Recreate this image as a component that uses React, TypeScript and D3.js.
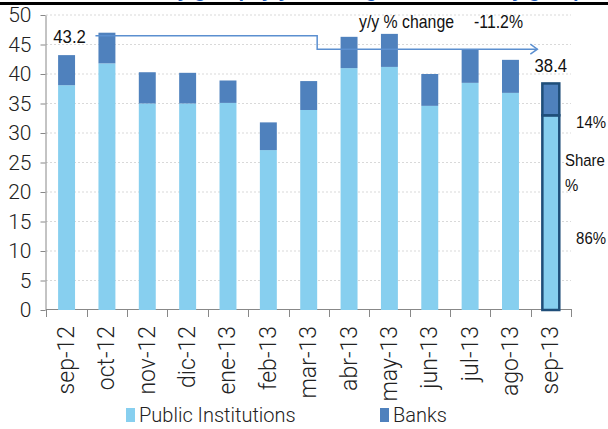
import React, { useEffect, useRef } from 'react';
import * as d3 from 'd3';

const months = ['sep-12', 'oct-12', 'nov-12', 'dic-12', 'ene-13', 'feb-13', 'mar-13', 'abr-13', 'may-13', 'jun-13', 'jul-13', 'ago-13', 'sep-13'];
const publicInst = [38.1, 41.8, 35.0, 35.0, 35.1, 27.1, 33.9, 41.0, 41.2, 34.6, 38.5, 36.8, 33.0];
const banks = [5.1, 5.2, 5.3, 5.2, 3.8, 4.7, 4.9, 5.3, 5.6, 5.4, 5.7, 5.6, 5.4];
const yTicks = [0, 5, 10, 15, 20, 25, 30, 35, 40, 45, 50];
const arrowLevels = [46.5, 44.2];
const yoyChange = '-11.2%';
const shareLabels = ['14%', '86%'];
const seriesNames = ['Public Institutions', 'Banks'];

const thin = "Roboto, 'DejaVu Sans', sans-serif";
const narrow = "'Liberation Sans', Arial, sans-serif";

const Chart = () => {
  const svgRef = useRef(null);

  useEffect(() => {
    const svg = d3.select(svgRef.current);
    svg.selectAll('*').remove();

    const x = d3.scaleBand().domain(months).range([46.4, 571]).paddingInner(0.58).paddingOuter(0.29);
    const y = d3.scaleLinear().domain([0, 50]).range([310, 15]);
    const bw = x.bandwidth();

    // cut-off title above the frame
    svg.append('text')
      .attr('x', 60).attr('y', -3)
      .style('font-family', narrow).style('font-size', '20px').style('font-weight', 'bold')
      .attr('fill', '#1f5fbf')
      .text('Total debt, by group, y/y % change, and share by group');
    svg.append('rect').attr('x', 0).attr('y', 2).attr('width', 608).attr('height', 3).attr('fill', '#000');

    // gridlines
    svg.append('g').selectAll('line').data(yTicks.filter(d => d > 0)).enter().append('line')
      .attr('x1', 46).attr('x2', 571)
      .attr('y1', d => y(d)).attr('y2', d => y(d))
      .attr('stroke', '#d9d9d9').attr('stroke-dasharray', '2,2');

    // y axis
    const yAxis = svg.append('g').attr('transform', 'translate(45.5,0)')
      .call(d3.axisLeft(y).tickValues(yTicks).tickSize(5).tickSizeOuter(0));
    yAxis.select('.domain').attr('stroke', '#888');
    yAxis.selectAll('.tick line').attr('stroke', '#888');
    yAxis.selectAll('text').attr('x', -14).style('font-family', thin).style('font-weight', 300)
      .style('font-size', '21px').attr('fill', '#222');

    // x axis
    const edges = d3.range(months.length + 1).map(i => 46.4 + i * x.step());
    svg.append('line').attr('x1', 46).attr('x2', 571).attr('y1', 309.5).attr('y2', 309.5).attr('stroke', '#888');
    svg.append('g').selectAll('line').data(edges).enter().append('line')
      .attr('x1', d => Math.round(d) + 0.5).attr('x2', d => Math.round(d) + 0.5)
      .attr('y1', 309).attr('y2', 317).attr('stroke', '#888');
    svg.append('g').selectAll('text').data(months).enter().append('text')
      .attr('transform', d => `translate(${x(d) + bw / 2},326) rotate(-90)`)
      .attr('text-anchor', 'end').attr('dominant-baseline', 'central')
      .style('font-family', thin).style('font-weight', 300).style('font-size', '23px').attr('fill', '#222')
      .text(d => d);

    // stacked bars
    const last = months.length - 1;
    const g = svg.append('g');
    months.forEach((m, i) => {
      const p = publicInst[i];
      const b = banks[i];
      const stroke = i === last ? '#1f4e79' : 'none';
      g.append('rect').attr('x', x(m)).attr('width', bw)
        .attr('y', y(p)).attr('height', y(0) - y(p))
        .attr('fill', '#87cfef').attr('stroke', stroke).attr('stroke-width', 2.5);
      g.append('rect').attr('x', x(m)).attr('width', bw)
        .attr('y', y(p + b)).attr('height', y(p) - y(p + b))
        .attr('fill', '#4f81bd').attr('stroke', stroke).attr('stroke-width', 2.5);
    });

    // y/y arrow
    const xs = x('oct-12') - 3;
    const xStep = x('mar-13') + bw;
    const xe = x('sep-13') - 5;
    svg.append('path')
      .attr('d', `M${xs},${y(arrowLevels[0])}H${xStep}V${y(arrowLevels[1])}H${xe}`)
      .attr('fill', 'none').attr('stroke', '#5b8fd0').attr('stroke-width', 1.5);
    svg.append('path')
      .attr('d', `M${xe - 7},${y(arrowLevels[1]) - 5}L${xe},${y(arrowLevels[1])}L${xe - 7},${y(arrowLevels[1]) + 5}`)
      .attr('fill', 'none').attr('stroke', '#5b8fd0').attr('stroke-width', 1.5);

    // annotations (condensed look)
    const ann = (tx, ty, t, size, anchor = 'start') => svg.append('text')
      .attr('transform', `translate(${tx},${ty}) scale(0.88,1)`).attr('text-anchor', anchor)
      .style('font-family', narrow).style('font-size', size).attr('fill', '#111').text(t);
    const tot0 = publicInst[0] + banks[0];
    const totL = publicInst[last] + banks[last];
    ann(x('sep-12') + bw / 2 + 3, 43, tot0.toFixed(1), '19px', 'middle');
    ann(x('sep-13') + bw / 2, 72, totL.toFixed(1), '19px', 'middle');
    ann(359, 28, 'y/y % change', '18px');
    ann(474, 28, yoyChange, '18px');
    ann(606, 128, shareLabels[0], '17px', 'end');
    ann(565, 166, 'Share', '17px');
    ann(565, 191, '%', '17px');
    ann(606, 244, shareLabels[1], '17px', 'end');

    // legend
    const legend = [
      { name: seriesNames[0], color: '#87cfef', sx: 126, tx: 139 },
      { name: seriesNames[1], color: '#4f81bd', sx: 380, tx: 393 },
    ];
    legend.forEach(l => {
      svg.append('rect').attr('x', l.sx).attr('y', 408).attr('width', 9).attr('height', 14).attr('fill', l.color);
      svg.append('text').attr('x', l.tx).attr('y', 422)
        .style('font-family', thin).style('font-weight', 300).style('font-size', '20px').attr('fill', '#222')
        .text(l.name);
    });
  }, []);

  return <svg ref={svgRef} width={608} height={429} style={{ position: 'absolute', left: 0, top: 0, background: '#fff' }} />;
};

export default function App() {
  return <Chart />;
}
